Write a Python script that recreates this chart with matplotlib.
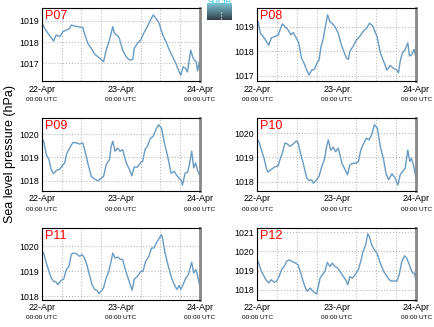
import numpy as np
import matplotlib.pyplot as plt
from matplotlib.colors import LinearSegmentedColormap

plt.rcParams['font.family'] = ['Liberation Sans', 'DejaVu Sans']

# hours since 22-Apr 00:00 UTC, sea level pressure (hPa)
t07 = [0, 0.8, 1.8, 3.3, 3.5, 4.3, 5.4, 6.4, 7.4, 8.4, 8.9, 9.9, 10.9, 12.4, 12.9, 13.9, 15.0,
       16.0, 17.0, 18.0, 18.7, 19.5, 20.5, 21.5, 22.0, 23.0, 23.5, 24.5, 25.6, 26.6, 27.6, 28.0,
       29.0, 30.0, 31.0, 32.0, 33.0, 33.8, 34.6, 35.6, 36.7, 37.7, 38.7, 39.7, 40.7, 41.7, 42.2,
       42.9, 43.7, 44.2, 45.2, 45.8, 46.3, 46.8, 47.3, 47.8, 48.0]
p07 = [1018.92, 1018.65, 1018.42, 1018.1, 1018.05, 1018.34, 1018.26, 1018.5, 1018.57, 1018.65,
       1018.81, 1018.76, 1018.73, 1018.69, 1018.42, 1017.95, 1017.7, 1017.44, 1017.31, 1017.19,
       1017.08, 1017.63, 1018.1, 1018.73, 1018.42, 1018.3, 1018.18, 1017.63, 1017.31, 1017.16,
       1017.19, 1017.7, 1017.95, 1018.1, 1018.45, 1018.73, 1019.05, 1019.28, 1019.13, 1018.89,
       1018.34, 1018.02, 1017.63, 1017.31, 1017.0, 1016.6, 1016.45, 1016.84, 1016.76, 1016.6,
       1017.63, 1017.31, 1017.16, 1017.1, 1016.65, 1017.08, 1016.7]

t08 = [0, 0.3, 1.0, 1.8, 2.8, 3.5, 4.3, 5.4, 6.4, 6.9, 7.6, 8.4, 9.4, 10.2, 10.9, 11.9, 12.6,
       13.4, 14.2, 15.0, 15.7, 16.5, 17.3, 18.0, 18.7, 19.3, 20.0, 20.7, 21.3, 22.0, 22.7, 23.5,
       24.5, 25.3, 26.0, 27.0, 27.6, 28.0, 29.0, 30.0, 31.0, 32.0, 33.0, 34.0, 35.0, 36.2, 37.2,
       38.2, 39.2, 40.2, 41.2, 42.2, 42.7, 43.2, 43.9, 44.7, 45.5, 46.0, 46.7, 47.4, 48.0]
p08 = [1019.27, 1019.2, 1018.73, 1018.6, 1018.4, 1018.24, 1018.54, 1018.6, 1018.66, 1018.86,
       1019.11, 1019.0, 1018.86, 1018.66, 1018.76, 1018.52, 1018.32, 1017.71, 1017.5, 1017.23,
       1017.03, 1017.23, 1017.26, 1017.5, 1017.64, 1018.18, 1018.52, 1019.07, 1019.48, 1019.2,
       1019.13, 1019.0, 1018.73, 1018.32, 1018.05, 1017.71, 1017.67, 1018.0, 1018.2, 1018.46,
       1018.6, 1018.8, 1018.93, 1019.14, 1019.0, 1018.6, 1017.93, 1017.59, 1017.23, 1017.41,
       1017.3, 1017.23, 1017.12, 1017.59, 1017.93, 1018.07, 1018.34, 1017.8, 1017.86, 1018.07,
       1017.71]

t09 = [0, 0.5, 1.3, 2.1, 2.8, 3.5, 4.3, 5.4, 6.4, 6.9, 7.4, 8.4, 9.4, 10.4, 11.4, 12.4, 13.2,
       13.9, 15.0, 16.0, 17.0, 18.0, 18.7, 19.5, 20.5, 21.0, 21.5, 22.2, 23.0, 23.7, 24.5, 25.6,
       26.6, 27.3, 28.0, 29.0, 30.0, 30.6, 31.3, 32.0, 33.0, 33.8, 34.6, 35.4, 36.3, 37.2, 38.2,
       39.2, 40.2, 41.2, 42.2, 42.7, 43.5, 44.2, 44.7, 45.5, 46.1, 46.7, 47.2, 47.8, 48.0]
p09 = [1019.78, 1019.69, 1019.12, 1018.9, 1018.47, 1018.29, 1018.43, 1018.49, 1018.68, 1018.76,
       1019.12, 1019.4, 1019.64, 1019.62, 1019.57, 1019.62, 1019.19, 1018.76, 1018.17, 1018.06,
       1017.99, 1018.1, 1018.17, 1018.68, 1018.9, 1019.47, 1019.69, 1019.26, 1019.4, 1019.26,
       1019.33, 1018.76, 1018.47, 1018.2, 1018.58, 1018.58, 1018.78, 1018.83, 1019.33, 1019.47,
       1019.83, 1019.9, 1020.19, 1020.4, 1020.26, 1019.62, 1019.04, 1018.32, 1018.39, 1018.17,
       1018.03, 1017.81, 1018.32, 1018.35, 1018.61, 1019.26, 1018.54, 1018.76, 1018.47, 1018.25,
       1018.2]

t10 = [0, 0.5, 1.3, 2.1, 2.8, 3.3, 4.3, 5.4, 6.4, 6.9, 7.7, 8.4, 8.9, 9.9, 10.9, 11.9, 12.4,
       13.1, 13.9, 15.0, 15.7, 16.5, 17.0, 18.0, 18.7, 19.5, 20.3, 21.0, 21.5, 22.2, 23.0, 23.7,
       24.5, 25.6, 26.6, 27.3, 28.0, 29.0, 30.0, 30.6, 31.3, 32.0, 33.0, 33.8, 34.6, 35.4, 36.3,
       37.2, 38.2, 38.9, 39.7, 40.7, 41.7, 42.5, 43.2, 43.9, 44.7, 45.5, 46.1, 46.6, 47.2, 48.0]
p10 = [1019.75, 1019.66, 1019.3, 1018.96, 1018.54, 1018.39, 1018.5, 1018.61, 1018.65, 1018.9,
       1019.2, 1019.59, 1019.57, 1019.45, 1019.55, 1019.68, 1019.59, 1019.17, 1018.76, 1018.14,
       1018.04, 1018.07, 1017.93, 1018.07, 1018.21, 1018.61, 1018.9, 1019.45, 1019.72, 1019.3,
       1019.41, 1019.23, 1019.38, 1018.76, 1018.48, 1018.28, 1018.69, 1018.76, 1018.76, 1018.83,
       1019.3, 1019.52, 1019.79, 1019.72, 1019.93, 1020.34, 1020.21, 1019.45, 1018.9, 1018.34,
       1018.07, 1018.32, 1018.14, 1017.86, 1018.28, 1018.41, 1018.55, 1019.3, 1018.83, 1018.96,
       1018.69, 1018.14]

t11 = [0, 0.5, 1.3, 2.1, 2.8, 3.5, 4.3, 4.8, 5.9, 6.6, 7.4, 8.2, 8.9, 9.4, 10.4, 11.4, 12.2,
       12.9, 13.6, 14.4, 15.2, 16.0, 16.7, 17.3, 18.0, 18.7, 19.5, 20.3, 21.0, 21.5, 22.2, 23.0,
       23.7, 24.5, 25.3, 26.3, 27.4, 28.0, 29.0, 30.0, 30.7, 31.5, 32.5, 33.3, 34.0, 34.7, 35.4,
       36.3, 36.6, 37.4, 38.4, 39.4, 40.2, 41.0, 41.7, 42.2, 42.9, 43.7, 44.5, 45.5, 46.1, 46.8,
       47.2, 48.0]
p11 = [1019.8, 1019.73, 1019.33, 1019.0, 1018.73, 1018.6, 1018.56, 1018.47, 1018.64, 1018.69,
       1019.07, 1019.2, 1019.67, 1019.73, 1019.71, 1019.6, 1019.67, 1019.53, 1019.27, 1018.87,
       1018.47, 1018.27, 1018.24, 1018.11, 1018.2, 1018.33, 1018.73, 1019.0, 1019.4, 1019.73,
       1019.53, 1019.57, 1019.49, 1019.47, 1019.07, 1018.67, 1018.24, 1018.67, 1018.8, 1019.0,
       1019.0, 1019.4, 1019.6, 1019.93, 1019.93, 1020.13, 1020.27, 1020.47, 1020.33, 1019.73,
       1019.2, 1018.73, 1018.47, 1018.27, 1018.43, 1018.27, 1018.47, 1018.73, 1018.87, 1019.36,
       1018.93, 1019.07, 1018.87, 1018.4]

t12 = [0, 0.5, 1.3, 2.1, 2.8, 3.5, 4.3, 5.2, 5.9, 6.6, 7.4, 8.2, 8.9, 9.6, 10.6, 11.6, 12.4,
       13.2, 13.9, 14.6, 15.2, 16.0, 16.7, 17.5, 18.0, 18.5, 19.0, 19.7, 20.5, 21.2, 22.0, 22.7,
       23.5, 24.3, 25.0, 26.0, 26.7, 27.4, 28.0, 28.8, 29.6, 30.6, 31.4, 32.0, 32.8, 33.4, 33.9,
       34.6, 35.4, 36.2, 37.2, 38.2, 39.2, 39.9, 40.7, 41.5, 42.2, 42.9, 43.7, 44.5, 45.2, 46.3,
       47.0, 47.5, 48.0]
p12 = [1019.56, 1019.39, 1018.97, 1018.71, 1018.5, 1018.36, 1018.53, 1018.4, 1018.45, 1018.68,
       1019.05, 1019.22, 1019.48, 1019.56, 1019.48, 1019.39, 1019.3, 1018.87, 1018.45, 1018.1,
       1017.93, 1018.1, 1017.97, 1017.83, 1017.8, 1018.18, 1018.61, 1018.79, 1018.97, 1019.43,
       1019.22, 1019.39, 1019.22, 1019.14, 1018.97, 1018.71, 1018.53, 1018.27, 1018.68, 1018.62,
       1018.79, 1019.05, 1019.56, 1020.0, 1020.34, 1020.91, 1020.77, 1020.34, 1020.08, 1019.91,
       1019.39, 1018.97, 1018.71, 1018.53, 1018.45, 1018.48, 1018.45, 1018.79, 1019.48, 1019.77,
       1019.65, 1019.14, 1018.87, 1018.87, 1018.45]

names = ['P07', 'P08', 'P09', 'P10', 'P11', 'P12']
times = [t07, t08, t09, t10, t11, t12]
values = [p07, p08, p09, p10, p11, p12]
ylims = [(1016.17, 1019.6), (1016.78, 1019.75), (1017.55, 1020.69),
         (1017.61, 1020.62), (1017.85, 1020.73), (1017.48, 1021.21)]
yticks = [[1017, 1018, 1019], [1017, 1018, 1019], [1018, 1019, 1020],
          [1018, 1019, 1020], [1018, 1019, 1020], [1018, 1019, 1020, 1021]]
date_labels = ['22-Apr', '23-Apr', '24-Apr']

fig = plt.figure(figsize=(4.35, 3.27), dpi=100)

lefts = [0.0966, 0.591]
widths = [0.363, 0.3655]
bottoms = [0.752, 0.416, 0.0826]
heights = [0.223, 0.223, 0.220]

for i in range(6):
    r, c = divmod(i, 2)
    ax = fig.add_axes([lefts[c], bottoms[r], widths[c], heights[r]])
    ax.plot(times[i], values[i], color='#6a9bc3', lw=1.0)
    ax.set_xlim(0, 48)
    ax.set_ylim(*ylims[i])
    ax.set_yticks(yticks[i])
    ax.set_yticklabels([str(v) for v in yticks[i]], fontsize=6.3)
    ax.set_xticks([0, 24, 48])
    ax.set_xticklabels(date_labels, fontsize=6.5)
    ax.set_xticks(np.arange(0, 49, 6), minor=True)
    ax.tick_params(axis='both', which='both', length=0, pad=2.5)
    ax.grid(True, which='minor', axis='x', color='#bbbbbb', ls=':', lw=0.8)
    ax.grid(True, which='major', axis='y', color='#bbbbbb', ls=':', lw=0.8)
    for s in ['left', 'top', 'bottom']:
        ax.spines[s].set_linewidth(0.8)
    ax.spines['right'].set_color('#888888')
    ax.spines['right'].set_linewidth(2)
    for xx in [0, 24, 48]:
        ax.text(xx / 48, -0.25, '00:00 UTC', transform=ax.transAxes,
                ha='center', va='center', fontsize=4.6)
    ax.text(0.02, 0.97, names[i], transform=ax.transAxes, color='red',
            fontsize=9, ha='left', va='top')

fig.text(0.023, 0.529, 'Sea level pressure (hPa)', rotation=90, fontsize=9,
         ha='center', va='center')

# small logo at the top
lax = fig.add_axes([207 / 435, 1 - 20 / 327, 25 / 435, 17 / 327])
grad = np.linspace(0, 1, 50).reshape(-1, 1)
cm = LinearSegmentedColormap.from_list('logo', ['#7fc4d2', '#2f3f4b'])
lax.imshow(grad, aspect='auto', cmap=cm, extent=(0, 1, 0, 1))
lax.plot([0.55, 0.55], [0.05, 0.55], color='white', ls=':', lw=0.8)
lax.text(0.5, 1.0, 'SOCIB', color='#5fd3e8', fontsize=5.5, ha='center', va='center',
         fontweight='bold')
lax.set_xlim(0, 1)
lax.set_ylim(0, 1)
lax.axis('off')

fig.savefig('out.png', dpi=100)
